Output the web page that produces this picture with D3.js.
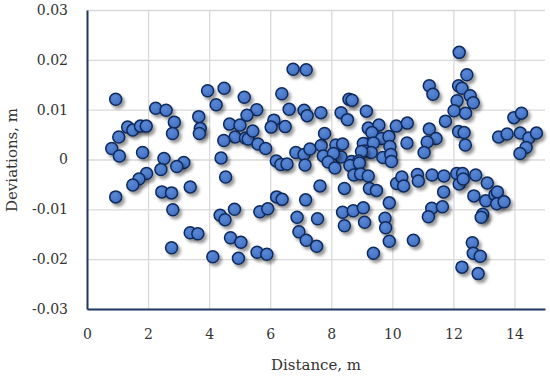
<!DOCTYPE html>
<html>
<head>
<meta charset="utf-8">
<script src="https://cdn.jsdelivr.net/npm/d3@7"></script>
<style>
  body { margin: 0; background: #fff; }
  svg text { font-family: "DejaVu Serif", "Liberation Serif", serif; fill: #333; }
</style>
</head>
<body>
<svg></svg>
<script>
let width = 550;
let height = 376;

// distance (m) and deviation (m)
let distance = [
  0.94, 2.25, 2.59, 3.95, 4.49, 4.23, 2.86, 2.80, 3.66, 3.71, 3.68, 1.33, 1.50, 1.75, 1.94,
  1.04, 0.81, 1.06, 1.82, 2.52, 3.17, 2.94, 4.67, 4.85, 4.48, 4.39, 5.15, 5.56, 5.24, 6.38,
  6.62, 6.75, 7.18, 7.11, 7.21, 5.01, 5.19, 5.28, 5.43, 5.60, 5.85, 6.12, 6.03, 6.49, 4.54,
  6.20, 6.35, 6.55, 6.84, 7.11, 7.30, 7.14, 7.67, 7.66, 2.42, 1.95, 1.70, 1.50, 0.94, 2.45,
  2.77, 3.38, 2.81, 4.83, 4.36, 4.52, 3.38, 3.63, 2.77, 4.12, 4.70, 5.04, 4.96, 5.57, 5.89,
  5.66, 5.92, 6.21, 6.39, 6.88, 7.16, 6.94, 7.18, 7.52, 7.55, 7.63, 8.58, 8.68, 8.32, 8.53,
  9.15, 7.78, 7.74, 8.15, 8.37, 8.32, 8.07, 9.21, 9.56, 9.33, 9.65, 9.89, 9.18, 9.05, 9.38,
  9.10, 9.31, 8.99, 9.69, 9.92, 9.95, 9.97, 8.67, 8.90, 8.61, 8.92, 7.90, 8.12, 8.74, 8.96,
  9.21, 9.25, 9.48, 8.43, 8.37, 8.72, 9.05, 8.43, 9.09, 9.90, 9.76, 9.78, 9.90, 9.38, 10.69,
  10.14, 10.31, 10.37, 10.82, 10.85, 11.30, 11.69, 12.11, 12.30, 12.19, 12.32, 11.68, 12.73, 13.11, 12.67,
  13.06, 13.36, 13.44, 13.42, 13.66, 11.29, 11.64, 11.18, 12.96, 12.91, 12.62, 12.65, 12.88, 12.28, 12.81,
  12.19, 12.44, 11.21, 11.33, 12.17, 12.28, 12.55, 12.65, 12.12, 12.02, 12.40, 11.74, 12.17, 12.35, 12.39,
  11.21, 11.43, 11.14, 11.04, 10.48, 10.13, 10.49, 13.98, 14.23, 13.48, 13.76, 14.19, 14.47, 14.72, 14.38,
  14.18
];
let deviation = [
  0.0121, 0.0103, 0.0099, 0.0138, 0.0143, 0.0110, 0.0075, 0.0052, 0.0086, 0.0062, 0.0052, 0.0065, 0.0059, 0.0067, 0.0067,
  0.0045, 0.0022, 0.0007, 0.0014, 0.0002, -0.0006, -0.0014, 0.0071, 0.0045, 0.0038, 0.0003, 0.0125, 0.0100, 0.0089, 0.0132,
  0.0101, 0.0181, 0.0180, 0.0099, 0.0088, 0.0069, 0.0043, 0.0041, 0.0057, 0.0031, 0.0022, 0.0079, 0.0065, 0.0066, -0.0035,
  -0.0003, -0.0010, -0.0009, 0.0014, 0.0010, 0.0021, -0.0011, 0.0028, 0.0094, -0.0020, -0.0028, -0.0039, -0.0051, -0.0075, -0.0065,
  -0.0067, -0.0055, -0.0101, -0.0100, -0.0112, -0.0121, -0.0147, -0.0149, -0.0177, -0.0195, -0.0157, -0.0166, -0.0198, -0.0186, -0.0190,
  -0.0105, -0.0099, -0.0075, -0.0080, -0.0116, -0.0081, -0.0145, -0.0162, -0.0174, -0.0119, -0.0053, 0.0121, 0.0119, 0.0094, 0.0080,
  0.0097, 0.0052, 0.0007, 0.0029, 0.0031, 0.0005, 0.0012, 0.0063, 0.0069, 0.0054, 0.0042, 0.0046, 0.0031, 0.0032, 0.0033,
  0.0017, 0.0014, 0.0016, 0.0004, 0.0026, 0.0010, -0.0004, -0.0004, -0.0003, -0.0012, -0.0007, -0.0005, -0.0017, -0.0031, -0.0029,
  -0.0033, -0.0058, -0.0062, -0.0058, -0.0106, -0.0103, -0.0097, -0.0133, -0.0126, -0.0087, -0.0118, -0.0137, -0.0164, -0.0188, -0.0162,
  -0.0048, -0.0035, -0.0053, -0.0030, -0.0043, -0.0031, -0.0033, -0.0028, -0.0028, -0.0049, -0.0039, -0.0065, -0.0031, -0.0047, -0.0073,
  -0.0083, -0.0071, -0.0065, -0.0089, -0.0085, -0.0098, -0.0095, -0.0115, -0.0110, -0.0116, -0.0167, -0.0188, -0.0194, -0.0216, -0.0229,
  0.0215, 0.0170, 0.0148, 0.0131, 0.0148, 0.0143, 0.0128, 0.0114, 0.0118, 0.0098, 0.0093, 0.0077, 0.0056, 0.0054, 0.0029,
  0.0061, 0.0042, 0.0035, 0.0014, 0.0033, 0.0067, 0.0073, 0.0084, 0.0093, 0.0045, 0.0051, 0.0053, 0.0043, 0.0053, 0.0024,
  0.0012
];

let xTicks = [0, 2, 4, 6, 8, 10, 12, 14];
let yTicks = [-0.03, -0.02, -0.01, 0, 0.01, 0.02, 0.03];

let data = distance.map((d, i) => ({ x: d, y: deviation[i] }));

let margin = { top: 10, right: 5, bottom: 67, left: 87 };

let svg = d3.select("svg")
            .attr("width", width)
            .attr("height", height);

let xScale = d3.scaleLinear()
               .domain([0, 15])
               .range([margin.left, width - margin.right]);

let yScale = d3.scaleLinear()
               .domain([-0.03, 0.03])
               .range([height - margin.bottom, margin.top]);

let defs = svg.append("defs");
let shadow = defs.append("filter")
                 .attr("id", "shadow")
                 .attr("x", "-50%").attr("y", "-50%")
                 .attr("width", "200%").attr("height", "200%");
shadow.append("feDropShadow")
      .attr("dx", 2.5)
      .attr("dy", 3)
      .attr("stdDeviation", 1.6)
      .attr("flood-color", "#000")
      .attr("flood-opacity", 0.4);

let grad = defs.append("radialGradient")
               .attr("id", "dotFill")
               .attr("cx", "40%").attr("cy", "35%").attr("r", "65%");
grad.append("stop").attr("offset", "0%").attr("stop-color", "#5a88d6");
grad.append("stop").attr("offset", "100%").attr("stop-color", "#4270c2");

// gridlines
svg.append("g")
   .attr("class", "y-grid")
   .attr("transform", "translate(" + margin.left + ",0)")
   .call(d3.axisLeft(yScale).tickValues(yTicks).tickSize(-(width - margin.left - margin.right)).tickFormat(""))
   .call(g => g.select(".domain").remove())
   .call(g => g.selectAll("line").attr("stroke", "#d9d9d9").attr("stroke-width", 1.3));

svg.append("g")
   .attr("class", "x-grid")
   .attr("transform", "translate(0," + (height - margin.bottom) + ")")
   .call(d3.axisBottom(xScale).tickValues(xTicks).tickSize(-(height - margin.top - margin.bottom)).tickFormat(""))
   .call(g => g.select(".domain").remove())
   .call(g => g.selectAll("line").attr("stroke", "#d9d9d9").attr("stroke-width", 1.3));

// points
svg.append("g")
   .selectAll("circle")
   .data(data)
   .enter()
   .append("circle")
   .attr("cx", (d) => xScale(d.x))
   .attr("cy", (d) => yScale(d.y))
   .attr("r", 6)
   .attr("fill", "url(#dotFill)")
   .attr("stroke", "#102a5c")
   .attr("stroke-width", 1.5)
   .attr("filter", "url(#shadow)");

// axes
let yAxis = svg.append("g")
   .attr("transform", "translate(" + margin.left + ",0)")
   .call(d3.axisLeft(yScale).tickValues(yTicks).tickSize(0).tickPadding(19)
           .tickFormat(d => d === 0 ? "0" : d3.format(".2f")(d).replace("−", "-")));
yAxis.select(".domain").attr("stroke", "#203864").attr("stroke-width", 2);
yAxis.selectAll("text").style("font-size", "14px").attr("fill", "#333");

let xAxis = svg.append("g")
   .attr("transform", "translate(0," + (height - margin.bottom) + ")")
   .call(d3.axisBottom(xScale).tickValues(xTicks).tickSize(0).tickPadding(20).tickFormat(d3.format("d")));
xAxis.select(".domain").attr("stroke", "#203864").attr("stroke-width", 2);
xAxis.selectAll("text").style("font-size", "14px").attr("fill", "#333");

// axis titles
svg.append("text")
   .attr("x", (margin.left + width - margin.right) / 2)
   .attr("y", 370)
   .attr("text-anchor", "middle")
   .style("font-size", "15px")
   .text("Distance, m");

svg.append("text")
   .attr("transform", "translate(17," + 160 + ") rotate(-90)")
   .attr("text-anchor", "middle")
   .style("font-size", "15px")
   .text("Deviations, m");
</script>
</body>
</html>
